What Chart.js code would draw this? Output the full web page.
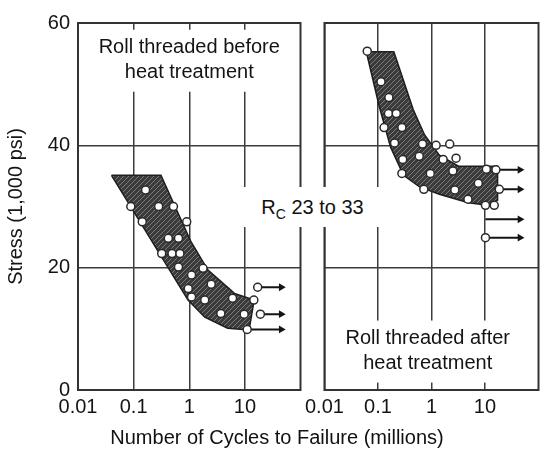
<!DOCTYPE html>
<html>
<head>
<meta charset="utf-8">
<script src="https://cdn.jsdelivr.net/npm/chart.js@4.4.1/dist/chart.umd.min.js"></script>
<style>
  body { margin: 0; background: #fff; }
  #wrap { position: relative; width: 544px; height: 450px; font-family: "Liberation Sans", Arial, sans-serif; color: #111; }
  canvas { position: absolute; top: 0; }
  #rc { position: absolute; left: 243px; top: 187px; width: 139px; height: 40px; line-height: 40px;
        background: #fff; text-align: center; font-size: 20px; }
  #rc sub { font-size: 14px; line-height: 0; vertical-align: -5px; }
  #xtitle { position: absolute; left: 77px; top: 425px; width: 400px; text-align: center;
            font-size: 20px; line-height: 24px; }
</style>
</head>
<body>
<div id="wrap">
  <canvas id="before" width="306" height="450" style="left:0"></canvas>
  <canvas id="after" width="244" height="450" style="left:300px"></canvas>
  <div id="rc">R<sub>C</sub> 23 to 33</div>
  <div id="xtitle">Number of Cycles to Failure (millions)</div>
</div>
<script>
const xTickVals = [0.01, 0.1, 1, 10];
const yTickVals = [0, 20, 40, 60];

// Roll threaded before heat treatment
const beforeBandX = [0.04, 0.31, 1.08, 2.17, 6.5, 14.7, 11.9, 4.9, 1.9, 0.95];
const beforeBandY = [35.1, 35.1, 24.2, 19.6, 15.8, 14.7, 9.8, 10.1, 11.9, 14.7];
const beforeFailX = [0.164, 0.089, 0.282, 0.52, 0.143, 0.9, 0.42, 0.64, 0.32, 0.49, 0.68, 0.64, 1.77, 1.1, 2.48, 0.96, 1.1, 1.9, 6.0, 3.7, 9.7, 14.5, 17, 19, 11];
const beforeFailY = [32.7, 30, 30, 30, 27.5, 27.5, 24.8, 24.8, 22.3, 22.3, 22.3, 20.1, 19.9, 18.8, 17.3, 16.6, 15.2, 14.7, 15.0, 12.5, 12.4, 14.7, 16.8, 12.4, 9.9];
const beforeRunX = [17, 19, 11];
const beforeRunY = [16.8, 12.4, 9.9];

// Roll threaded after heat treatment
const afterBandX = [0.0605, 0.198, 0.457, 0.745, 1.4, 3.2, 17.2, 17.2, 11.3, 4.9, 1.4, 0.6, 0.3, 0.172, 0.106];
const afterBandY = [55.3, 55.3, 45.8, 41.7, 38.4, 36.6, 36.6, 31.0, 30.2, 30.6, 32.0, 33.2, 35.1, 39.7, 46.3];
const afterFailX = [0.063, 0.114, 0.16, 0.157, 0.22, 0.13, 0.28, 0.204, 0.68, 1.22, 2.19, 0.29, 0.59, 1.65, 2.88, 0.28, 0.95, 2.51, 10.6, 16, 7.5, 18.5, 0.72, 2.73, 4.8, 10.2, 14.9, 10.2];
const afterFailY = [55.4, 50.4, 47.8, 45.2, 45.2, 42.9, 42.9, 40.4, 40.2, 40.0, 40.2, 37.7, 38.2, 37.7, 37.9, 35.4, 35.4, 35.8, 36.1, 36.0, 33.8, 32.8, 32.8, 32.7, 31.2, 30.2, 30.2, 24.9];
const afterRunX = [16, 18.5, 10.2, 10.2];
const afterRunY = [36.0, 32.8, 27.9, 24.9];

// runout arrows point to here
const runTipX = 45;

const ink = '#141414';
const gridColor = '#3c3c3c';
Chart.defaults.font.family = '"Liberation Sans", Arial, sans-serif';
Chart.defaults.font.size = 20;
Chart.defaults.color = ink;

// hatched fill for the scatter band
function hatch() {
    const c = document.createElement('canvas');
    c.width = 5; c.height = 5;
    const g = c.getContext('2d');
    g.fillStyle = '#3b3b3b';
    g.fillRect(0, 0, 5, 5);
    g.strokeStyle = '#7c7c7c';
    g.lineWidth = 1;
    g.beginPath();
    g.moveTo(0, 5); g.lineTo(5, 0);
    g.moveTo(-1, 1); g.lineTo(1, -1);
    g.moveTo(4, 6); g.lineTo(6, 4);
    g.stroke();
    return g.createPattern(c, 'repeat');
}
const hatchFill = hatch();

// white box with the panel caption, it cuts the grid like in the print
const panelNote = {
    id: 'panelNote',
    beforeDatasetsDraw(chart, args, opts) {
        const ctx = chart.ctx;
        const cx = chart.scales.x.getPixelForValue(opts.at[0]);
        const cy = chart.scales.y.getPixelForValue(opts.at[1]);
        ctx.save();
        ctx.fillStyle = '#fff';
        ctx.fillRect(cx - 97, cy - 30, 194, 62);
        ctx.fillStyle = ink;
        ctx.font = '20px "Liberation Sans", Arial, sans-serif';
        ctx.textAlign = 'center';
        ctx.textBaseline = 'middle';
        ctx.fillText(opts.lines[0], cx, cy - 12.5);
        ctx.fillText(opts.lines[1], cx, cy + 12.5);
        // frame round the plot area
        const a = chart.chartArea;
        ctx.strokeStyle = '#333';
        ctx.lineWidth = 2;
        ctx.strokeRect(a.left, a.top, a.right - a.left, a.bottom - a.top);
        ctx.restore();
    }
};

function pts(xs, ys) {
    return xs.map((x, i) => ({ x: x, y: ys[i] }));
}

function datasets(bandX, bandY, failX, failY, runX, runY) {
    const band = pts(bandX, bandY);
    band.push(band[0]);
    const list = [{
        type: 'line',
        data: band,
        fill: 'shape',
        backgroundColor: hatchFill,
        borderColor: '#1e1e1e',
        borderWidth: 1.5,
        pointRadius: 0,
        tension: 0,
        order: 3
    }, {
        type: 'scatter',
        data: pts(failX, failY),
        pointRadius: 4,
        backgroundColor: '#fff',
        borderColor: '#2a2a2a',
        borderWidth: 1.5,
        order: 1
    }];
    runX.forEach((x, i) => {
        list.push({
            type: 'line',
            data: [{ x: x, y: runY[i] }, { x: runTipX, y: runY[i] }],
            borderColor: ink,
            borderWidth: 2,
            pointRadius: [0, 4.5],
            pointStyle: 'triangle',
            pointRotation: 90,
            pointBackgroundColor: ink,
            pointBorderWidth: 0,
            fill: false,
            order: 2
        });
    });
    return list;
}

function makeChart(id, data, note, yWidth, showY) {
    return new Chart(document.getElementById(id), {
        type: 'scatter',
        data: { datasets: data },
        plugins: [panelNote],
        options: {
            responsive: false,
            animation: false,
            layout: { padding: { top: 23, right: 2, left: 0, bottom: 0 } },
            plugins: {
                legend: { display: false },
                tooltip: { enabled: false },
                panelNote: note
            },
            scales: {
                x: {
                    type: 'logarithmic',
                    min: 0.01,
                    max: 100,
                    afterBuildTicks: s => { s.ticks = xTickVals.map(v => ({ value: v })); },
                    afterFit: s => { s.height = 60; },
                    ticks: { callback: v => String(v), padding: 5, maxRotation: 0, autoSkip: false },
                    grid: { color: gridColor, lineWidth: 1.5, drawTicks: false },
                    border: { display: false }
                },
                y: {
                    min: 0,
                    max: 60,
                    afterBuildTicks: s => { s.ticks = yTickVals.map(v => ({ value: v })); },
                    afterFit: s => { s.width = yWidth; },
                    ticks: { display: showY, padding: 8 },
                    grid: { color: gridColor, lineWidth: 1.5, drawTicks: false },
                    border: { display: false },
                    title: { display: showY, text: 'Stress (1,000 psi)', font: { size: 20 } }
                }
            }
        }
    });
}

makeChart('before',
    datasets(beforeBandX, beforeBandY, beforeFailX, beforeFailY, beforeRunX, beforeRunY),
    { at: [1, 54], lines: ['Roll threaded before', 'heat treatment'] }, 78, true);

makeChart('after',
    datasets(afterBandX, afterBandY, afterFailX, afterFailY, afterRunX, afterRunY),
    { at: [0.85, 6.45], lines: ['Roll threaded after', 'heat treatment'] }, 22, false);
</script>
</body>
</html>
